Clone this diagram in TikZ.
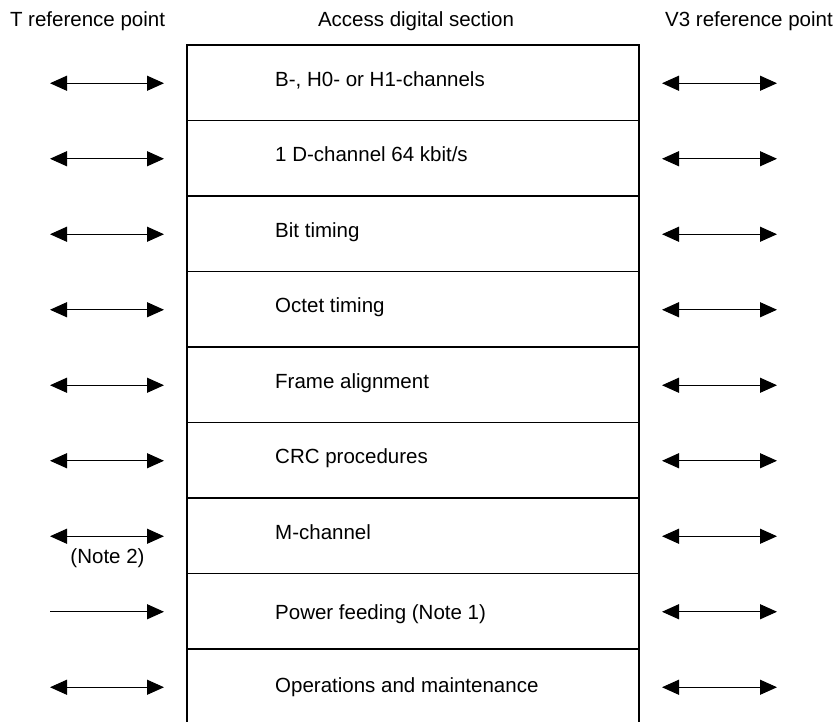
\documentclass[tikz,border=0pt]{standalone}
\usepackage{fontspec}
\setmainfont{Liberation Sans}
\usetikzlibrary{arrows.meta}
\begin{document}
\begin{tikzpicture}[x=1pt,y=-1pt,
  rowbox/.style={draw=black, line width=1.2pt, minimum width=452pt, minimum height=75.5pt, inner sep=0pt, outer sep=0pt, anchor=north west},
  lbl/.style={anchor=base west, inner sep=0pt, font=\fontsize{20.5}{24}\selectfont},
  hdr/.style={anchor=base, inner sep=0pt, font=\fontsize{20.5}{24}\selectfont},
  link/.style={line width=1.1pt, {Triangle[length=17pt,width=15pt]}-{Triangle[length=17pt,width=15pt]}},
  feed/.style={line width=1.1pt, -{Triangle[length=17pt,width=15pt]}}]
\useasboundingbox (0,0) rectangle (837,722);
\clip (0,0) rectangle (837,722);
% headers
\node[hdr] (hT) at (87.5,26.7) {T reference point};
\node[hdr] (hA) at (416,26.7) {Access digital section};
\node[hdr] (hV) at (749,26.7) {V3 reference point};
% rows
\foreach \i/\t/\b in {1/{B-, H0- or H1-channels}/87,
                      2/{1 D-channel 64 kbit/s}/161.7,
                      3/{Bit timing}/237.2,
                      4/{Octet timing}/312.7,
                      5/{Frame alignment}/388.2,
                      6/{CRC procedures}/463.7,
                      7/{M-channel}/539.3,
                      8/{Power feeding (Note 1)}/619,
                      9/{Operations and maintenance}/692.7}{
  \pgfmathsetmacro\ytop{45+75.5*(\i-1)}
  \pgfmathsetmacro\ymid{45+75.5*(\i-0.5)+0.5}
  \node[rowbox] (r\i) at (187,\ytop) {};
  \node[lbl] (t\i) at (275,\b) {\t};
  \coordinate (la\i) at (50,\ymid);
  \coordinate (lb\i) at (164,\ymid);
  \coordinate (ra\i) at (662,\ymid);
  \coordinate (rb\i) at (777,\ymid);
  \draw[link] (ra\i) -- (rb\i);
}
\foreach \i in {1,...,7,9}{
  \draw[link] (la\i) -- (lb\i);
}
\draw[feed] (la8) -- (lb8);
\node[hdr] (note2) at (107.5,563.3) {(Note 2)};
\end{tikzpicture}
\end{document}
